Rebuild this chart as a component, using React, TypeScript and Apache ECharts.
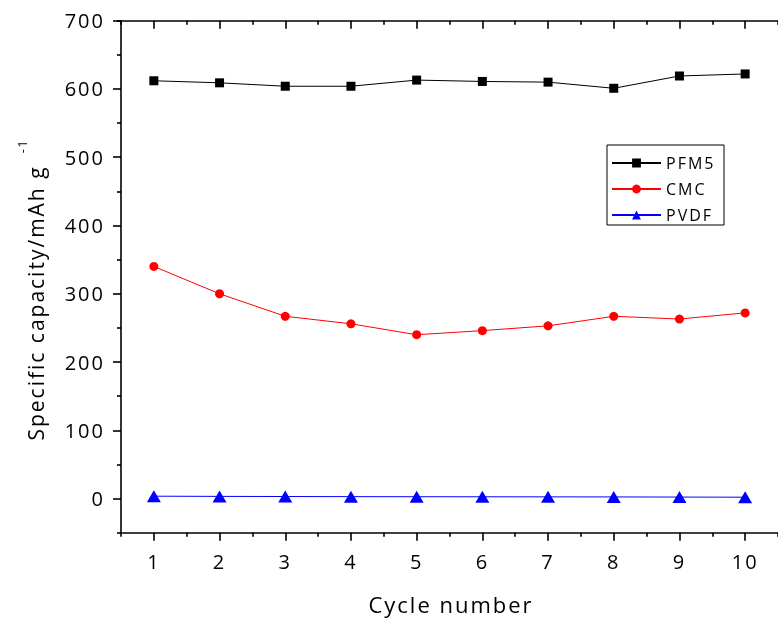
import React, { useEffect, useRef } from "react";
import * as echarts from "echarts";

const cycles = [1, 2, 3, 4, 5, 6, 7, 8, 9, 10];
const pfm5 = [612, 609, 604, 604, 613, 611, 610, 601, 619, 622];
const cmc = [340, 300, 267, 256, 240, 246, 253, 267, 263, 272];
const pvdf = [3.5, 3.2, 3.0, 2.8, 2.7, 2.6, 2.5, 2.4, 2.2, 2.0];
const yTickValues = [0, 100, 200, 300, 400, 500, 600, 700];
const seriesNames = ["PFM5", "CMC", "PVDF"];
const xTitle = "Cycle number";
const yTitle = "Specific capacity/mAh g";
const ySup = "-1";

const FONT = "Open Sans";
const AX = { color: "#000", width: 1.6 };

export default function App() {
  const ref = useRef<HTMLDivElement>(null);
  useEffect(() => {
    if (!ref.current) return;
    const chart = echarts.init(ref.current, undefined, { renderer: "svg" });
    const toPairs = (vals: number[]) => cycles.map((c, i) => [c, vals[i]]);
    const xBase = {
      type: "value",
      gridIndex: 0,
      min: 0.5,
      max: 10.5,
      splitLine: { show: false },
    };
    const yBase = {
      type: "value",
      gridIndex: 0,
      min: -50,
      max: 700,
      splitLine: { show: false },
    };
    chart.setOption({
      animation: false,
      textStyle: { fontFamily: FONT },
      grid: { left: 121, top: 20.7, width: 661.4, height: 512, containLabel: false },
      xAxis: [
        {
          ...xBase,
          position: "bottom",
          interval: 1,
          axisLine: { show: true, onZero: false, lineStyle: AX },
          axisTick: { show: true, length: 4, lineStyle: AX },
          axisLabel: {
            show: true,
            customValues: cycles,
            margin: 19,
            fontSize: 20,
            color: "#000",
            fontFamily: FONT,
          },
        },
        {
          ...xBase,
          position: "bottom",
          interval: 1,
          axisLine: { show: false, onZero: false },
          axisTick: { show: true, length: 8, lineStyle: AX, customValues: cycles },
          axisLabel: { show: false },
        },
        {
          ...xBase,
          position: "top",
          interval: 1,
          axisLine: { show: true, onZero: false, lineStyle: AX },
          axisTick: { show: true, inside: true, length: 4, lineStyle: AX },
          axisLabel: { show: false },
        },
        {
          ...xBase,
          position: "top",
          interval: 1,
          axisLine: { show: false, onZero: false },
          axisTick: { show: true, inside: true, length: 8, lineStyle: AX, customValues: cycles },
          axisLabel: { show: false },
        },
      ],
      yAxis: [
        {
          ...yBase,
          position: "left",
          interval: 100,
          axisLine: { show: true, onZero: false, lineStyle: AX },
          axisTick: { show: true, length: 4, lineStyle: AX },
          axisLabel: {
            show: true,
            customValues: yTickValues,
            margin: 16,
            fontSize: 20,
            color: "#000",
            fontFamily: FONT,
          },
        },
        {
          ...yBase,
          position: "left",
          interval: 100,
          axisLine: { show: false, onZero: false },
          axisTick: { show: true, length: 8, lineStyle: AX, customValues: yTickValues },
          axisLabel: { show: false },
        },
      ],
      legend: {
        data: seriesNames,
        orient: "vertical",
        left: 611,
        top: 155,
        padding: 0,
        itemWidth: 49,
        itemHeight: 11,
        itemGap: 10,
        textStyle: { fontSize: 16, color: "#000", fontFamily: FONT },
      },
      graphic: [
        {
          type: "rect",
          shape: { x: 607, y: 145, width: 117, height: 80 },
          style: { fill: "none", stroke: "#000", lineWidth: 1 },
          silent: true,
        },
        {
          type: "text",
          x: 451,
          y: 604,
          style: {
            text: xTitle,
            fontSize: 22,
            fontFamily: FONT,
            fill: "#000",
            align: "center",
            verticalAlign: "middle",
          },
        },
        {
          type: "text",
          x: 36,
          y: 303,
          rotation: Math.PI / 2,
          style: {
            text: yTitle,
            fontSize: 21,
            fontFamily: FONT,
            fill: "#000",
            align: "center",
            verticalAlign: "middle",
          },
        },
        {
          type: "text",
          x: 22,
          y: 146,
          rotation: Math.PI / 2,
          style: {
            text: ySup,
            fontSize: 12,
            fontFamily: FONT,
            fill: "#000",
            align: "center",
            verticalAlign: "middle",
          },
        },
      ],
      series: [
        {
          name: seriesNames[0],
          type: "line",
          xAxisIndex: 0,
          yAxisIndex: 0,
          data: toPairs(pfm5),
          symbol: "rect",
          symbolSize: 9,
          lineStyle: { color: "#000", width: 1 },
          itemStyle: { color: "#000" },
        },
        {
          name: seriesNames[1],
          type: "line",
          xAxisIndex: 0,
          yAxisIndex: 0,
          data: toPairs(cmc),
          symbol: "circle",
          symbolSize: 9,
          lineStyle: { color: "#ff0000", width: 1 },
          itemStyle: { color: "#ff0000" },
        },
        {
          name: seriesNames[2],
          type: "line",
          xAxisIndex: 0,
          yAxisIndex: 0,
          data: toPairs(pvdf),
          symbol: "triangle",
          symbolSize: [14, 12],
          lineStyle: { color: "#0000ff", width: 1 },
          itemStyle: { color: "#0000ff" },
        },
      ],
    });
    return () => chart.dispose();
  }, []);
  return (
    <>
      <style>{`#root svg text { letter-spacing: 2px; }`}</style>
      <div
        ref={ref}
        style={{ position: "fixed", left: 0, top: 0, width: 778, height: 619 }}
      />
    </>
  );
}
